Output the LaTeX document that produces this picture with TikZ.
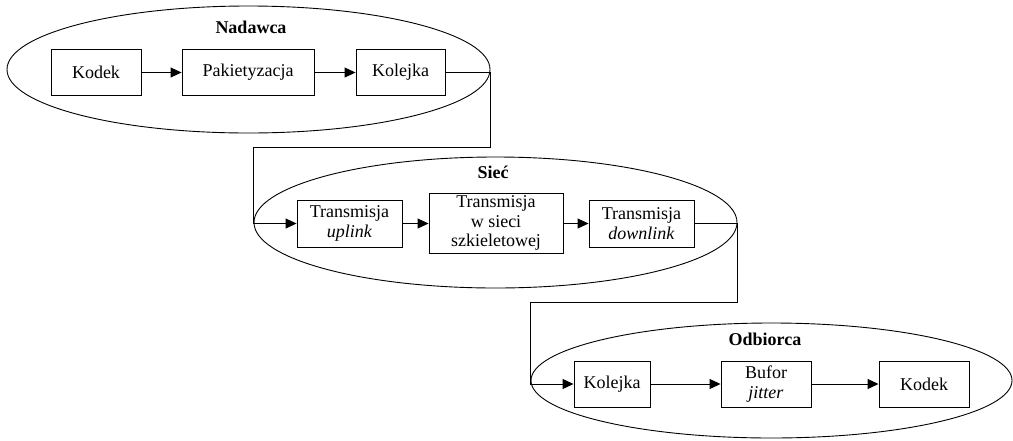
\documentclass[tikz,border=0pt]{standalone}
\usepackage{fontspec}
\setmainfont{Liberation Serif}
\newfontfamily\tmsfont{Liberation Serif}
\usetikzlibrary{shapes.geometric,arrows.meta}
\tikzset{
  grp/.style={draw, ellipse, inner sep=0pt, line width=0.9pt},
  blk/.style={draw, rectangle, inner sep=0pt, align=center, line width=0.9pt,
              font=\tmsfont\fontsize{18}{19.5}\selectfont},
  ttl/.style={anchor=base, font=\tmsfont\fontsize{18}{19.5}\selectfont\bfseries},
  conn/.style={line width=0.9pt},
  arr/.style={line width=0.9pt, -{Triangle[length=11pt,width=10pt]}}
}
\begin{document}
\begin{tikzpicture}[x=1pt,y=-1pt]
\useasboundingbox (0,0) rectangle (1013,440);
% group ellipses
\node[grp, minimum width=483pt, minimum height=127pt] (nad) at (248.5,69.5) {};
\node[grp, minimum width=483pt, minimum height=131pt] (siec) at (495.5,222.5) {};
\node[grp, minimum width=481pt, minimum height=115pt] (odb) at (771.5,380.5) {};
% titles
\node[ttl] (tnad) at (251,33) {Nadawca};
\node[ttl] (tsiec) at (493,178) {Sieć};
\node[ttl] (todb) at (765,345) {Odbiorca};
% Nadawca boxes
\node[blk, minimum width=90pt, minimum height=46pt] (kod1) at (96,72.5) {Kodek};
\node[blk, minimum width=132pt, minimum height=46pt] (pak) at (248,72.5) {Pakietyzacja};
\node[blk, minimum width=89pt, minimum height=46pt] (kol1) at (400.5,72.5) {Kolejka};
% Siec boxes
\node[blk, minimum width=105pt, minimum height=47pt] (up) at (349.5,223.5) {Transmisja\\\textit{uplink}};
\node[blk, minimum width=134pt, minimum height=60pt] (szk) at (496,223) {Transmisja\\w sieci\\szkieletowej};
\node[blk, minimum width=105pt, minimum height=47pt] (down) at (641.5,223.5) {Transmisja\\\textit{downlink}};
% Odbiorca boxes
\node[blk, minimum width=76pt, minimum height=46pt] (kol2) at (612,384) {Kolejka};
\node[blk, minimum width=90pt, minimum height=46pt] (buf) at (766,384) {Bufor\\\textit{jitter}};
\node[blk, minimum width=90pt, minimum height=46pt] (kod2) at (924,384) {Kodek};
% arrows inside groups
\draw[arr] (kod1) -- (pak);
\draw[arr] (pak) -- (kol1);
\draw[arr] (up.east) -- (up.east -| szk.west);
\draw[arr] (szk.east |- down.west) -- (down.west);
\draw[arr] (kol2) -- (buf);
\draw[arr] (buf) -- (kod2);
% links between groups
\coordinate (c1) at (0,147.5);
\coordinate (c2) at (0,302.5);
\draw[arr] (kol1.east) -- (kol1.east -| nad.east) -- (nad.east |- c1)
  -- (siec.west |- c1) -- (siec.west |- up.west) -- (up.west);
\draw[arr] (down.east) -- (down.east -| siec.east) -- (siec.east |- c2)
  -- (odb.west |- c2) -- (odb.west |- kol2.west) -- (kol2.west);
\end{tikzpicture}
\end{document}
